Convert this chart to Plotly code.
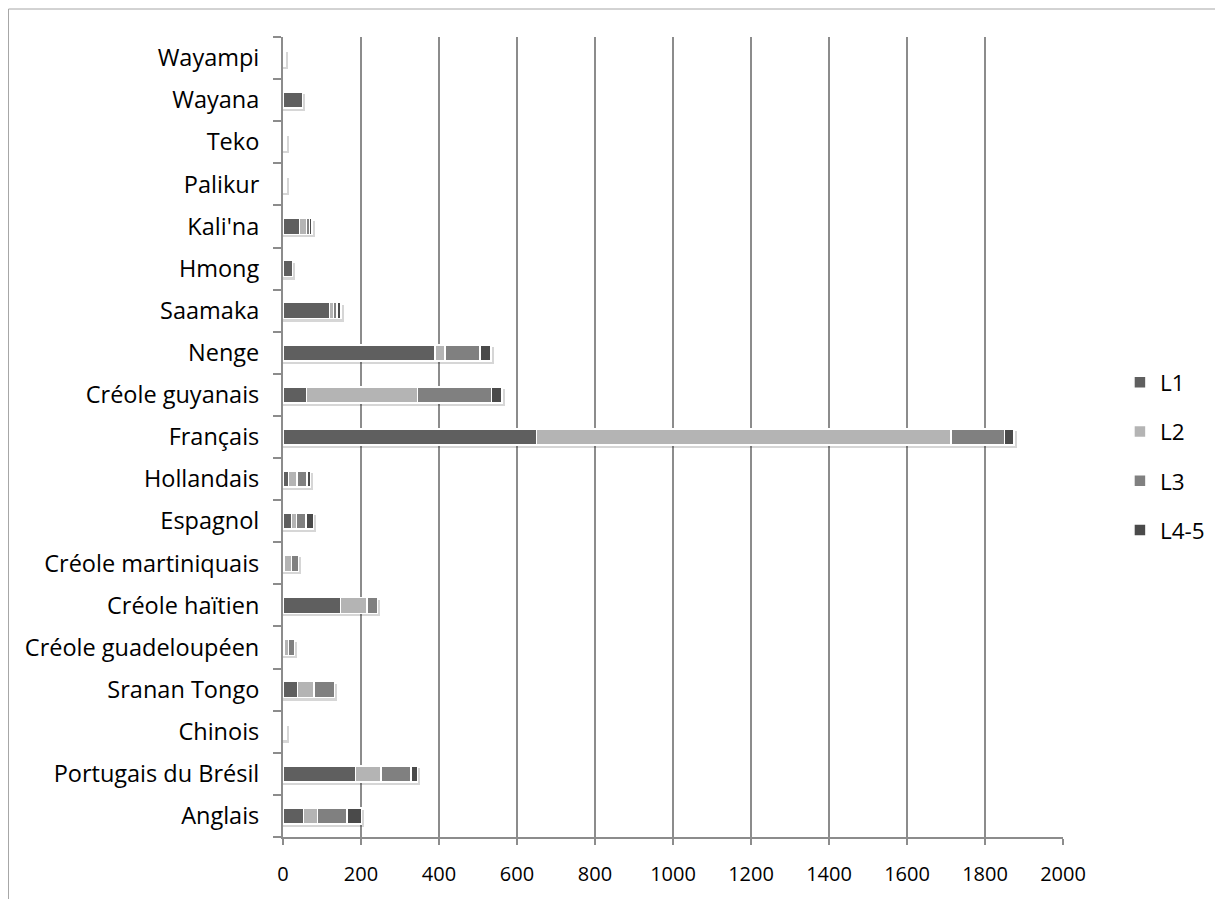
import plotly.graph_objects as go

categories = ["Wayampi", "Wayana", "Teko", "Palikur", "Kali'na", "Hmong", "Saamaka",
              "Nenge", "Créole guyanais", "Français", "Hollandais", "Espagnol",
              "Créole martiniquais", "Créole haïtien", "Créole guadeloupéen",
              "Sranan Tongo", "Chinois", "Portugais du Brésil", "Anglais"]

L1 = [3, 50, 5, 4, 42, 24, 119, 390, 60, 650, 14, 22, 2, 147, 2, 37, 3, 186, 52]
L2 = [2, 0, 3, 2, 18, 0, 10, 25, 285, 1063, 22, 13, 20, 69, 12, 43, 3, 65, 37]
L3 = [0, 0, 0, 2, 8, 0, 10, 90, 190, 137, 26, 24, 18, 26, 15, 52, 2, 77, 75]
L45 = [0, 0, 0, 0, 6, 0, 10, 28, 27, 24, 9, 19, 0, 0, 0, 0, 0, 17, 37]

series = [("L1", L1, "#5f5f5f"), ("L2", L2, "#b4b4b4"),
          ("L3", L3, "#808080"), ("L4-5", L45, "#4a4a4a")]

totals = [a + b + c + d for a, b, c, d in zip(L1, L2, L3, L45)]

fig = go.Figure()
# soft drop shadow under each stacked bar
fig.add_trace(go.Bar(
    y=categories, x=[t + 7 for t in totals], orientation="h",
    width=0.40, offset=-0.26, showlegend=False, hoverinfo="skip",
    marker=dict(color="rgba(0,0,0,0.16)", line=dict(width=0)),
    xaxis="x", yaxis="y",
))
for name, vals, col in series:
    fig.add_trace(go.Bar(
        y=categories, x=vals, name=name, orientation="h", legendgroup=name,
        marker=dict(color=col, line=dict(color="white", width=1.5)),
        xaxis="x2", yaxis="y",
    ))

fig.update_layout(
    barmode="stack",
    bargap=0.62,
    width=1215, height=891,
    paper_bgcolor="white", plot_bgcolor="white",
    margin=dict(l=275, r=160, t=29, b=60),
    font=dict(family="'Open Sans', sans-serif", size=21, color="black"),
    showlegend=True,
    legend=dict(x=1.073, y=0.476, xanchor="left", yanchor="middle",
                traceorder="grouped", font=dict(size=22.5),
                itemwidth=30, tracegroupgap=17, bgcolor="rgba(0,0,0,0)"),
    xaxis=dict(range=[0, 2000], dtick=200, showgrid=True, gridcolor="#8c8c8c",
               gridwidth=1.5, showline=True, linecolor="#8c8c8c", linewidth=1.5,
               ticks="outside", ticklen=6, tickcolor="#8c8c8c", tickwidth=1.5,
               zeroline=False, tickfont=dict(size=20), ticklabelstandoff=12),
    xaxis2=dict(range=[0, 2000], overlaying="x", visible=False),
    yaxis=dict(categoryorder="array", categoryarray=categories[::-1],
               showgrid=False, showline=True, linecolor="#8c8c8c", linewidth=2,
               ticks="outside", ticklen=8, tickcolor="#8c8c8c", tickwidth=1.5,
               tickson="boundaries", ticklabelstandoff=17, tickfont=dict(size=23.5)),
    shapes=[dict(type="rect", xref="paper", yref="paper",
                 x0=-0.3519, x1=1.196, y0=-0.1, y1=1.035,
                 line=dict(color="#a6a6a6", width=1), fillcolor="rgba(0,0,0,0)",
                 layer="below")],
)

fig.write_html("out.html")
